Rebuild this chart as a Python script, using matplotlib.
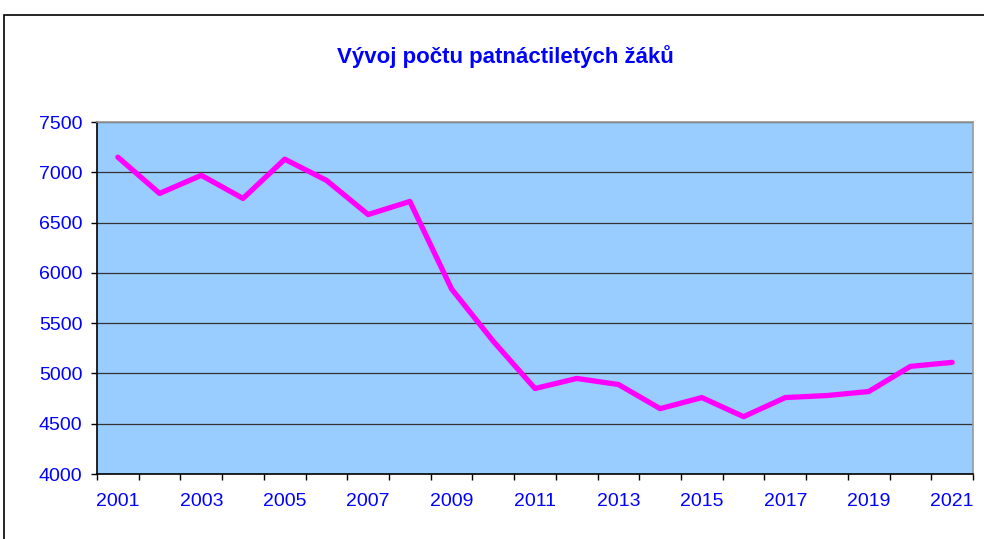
import numpy as np
import matplotlib.pyplot as plt
from matplotlib.patches import Rectangle

plt.rcParams['font.family'] = ['Liberation Sans', 'DejaVu Sans']

# pocty zaku podle roku
roky = list(range(2001, 2022))
zaci = [7150, 6790, 6970, 6740, 7130, 6920, 6580, 6710, 5840, 5320, 4850,
        4950, 4890, 4650, 4760, 4570, 4760, 4780, 4820, 5070, 5110]
popisky = [str(r) for r in roky[::2]]

fig = plt.figure(figsize=(9.84, 5.39), dpi=100)
ax = fig.add_axes([97/984, 1-474/539, 876/984, 352/539])

x = np.arange(len(roky))
ax.plot(x, zaci, color='#FF00FF', lw=3.8, solid_capstyle='round', solid_joinstyle='round', zorder=3)

ax.set_facecolor('#99CCFF')
ax.set_xlim(-0.5, len(roky) - 0.5)
ax.set_ylim(4000, 7500)
ax.set_yticks(np.arange(4000, 7501, 500))
ax.grid(axis='y', color='#333333', lw=0.9)
ax.set_axisbelow(True)

# carky mezi kategoriemi, popisky pod kazdym druhym rokem
ax.set_xticks(np.arange(-0.5, len(roky), 1))
ax.set_xticklabels([])
ax.set_xticks(x[::2], minor=True)
ax.set_xticklabels(popisky, minor=True)
ax.tick_params(axis='x', which='major', length=4, width=1, color='black', direction='out')
ax.tick_params(axis='x', which='minor', length=0, pad=14, labelsize=14, labelcolor='#0000FF')
ax.tick_params(axis='y', length=4, width=1, pad=6.5, labelsize=14, labelcolor='#0000FF')

for s in ['top', 'right']:
    ax.spines[s].set_color('#999999')
    ax.spines[s].set_linewidth(1.2)
for s in ['left', 'bottom']:
    ax.spines[s].set_color('black')
    ax.spines[s].set_linewidth(1.2)

fig.text(505/984, 1-57/539, 'Vývoj počtu patnáctiletých žáků', ha='center', va='center',
         fontsize=16, fontweight='bold', color='#0000FF')

# ramecek grafu
fig.patches.append(Rectangle((4/984, -0.1), 1.2, 1-15/539+0.1, transform=fig.transFigure,
                             fill=False, ec='black', lw=1.2))

fig.savefig('out.png', dpi=100)
